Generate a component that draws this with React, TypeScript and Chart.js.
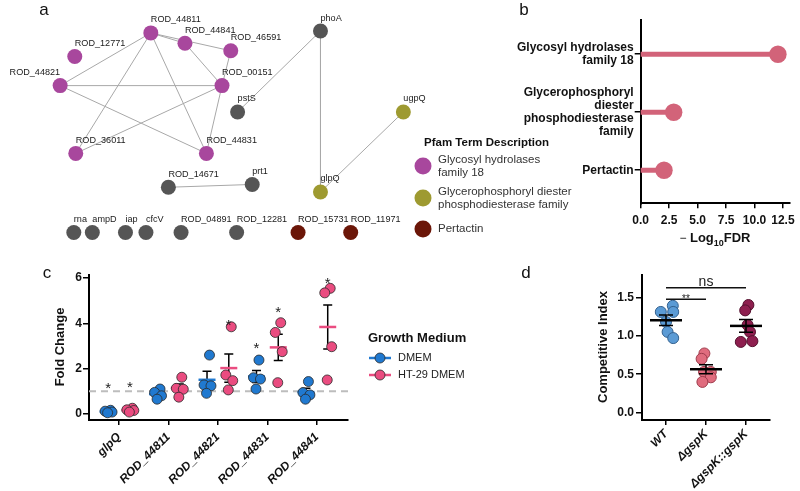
import React, { useEffect, useRef } from "react";
import { Chart, registerables } from "chart.js";

Chart.register(...registerables);

const FONT = '"Liberation Sans", Arial, Helvetica, sans-serif';

// ---------------- Panel a: interaction network ----------------
const nodeNames = ["ROD_44811", "ROD_44841", "ROD_46591", "ROD_12771", "ROD_44821", "ROD_00151", "pstS", "ROD_36011", "ROD_44831", "ROD_14671", "prt1", "phoA", "glpQ", "ugpQ", "rna", "ampD", "iap", "cfcV", "ROD_04891", "ROD_12281", "ROD_15731", "ROD_11971"];
const nodeX = [147, 182, 229, 69, 54, 220, 236, 70, 204, 165, 251, 321, 321, 406, 68, 87, 121, 142, 178, 235, 298, 352];
const nodeY = [27, 38, 46, 52, 83, 83, 111, 155, 155, 191, 188, 25, 196, 111, 239, 239, 239, 239, 239, 239, 239, 239];
const nodeGroup = [0, 0, 0, 0, 0, 0, 3, 0, 0, 3, 3, 3, 1, 1, 3, 3, 3, 3, 3, 3, 2, 2];
const rightLabelled = ["ROD_44821"];
const edgeFrom = ["ROD_44811", "ROD_44811", "ROD_44811", "ROD_44811", "ROD_44811", "ROD_44841", "ROD_46591", "ROD_44821", "ROD_44821", "ROD_00151", "ROD_00151", "phoA", "phoA", "glpQ", "ROD_14671"];
const edgeTo = ["ROD_44841", "ROD_46591", "ROD_44821", "ROD_36011", "ROD_44831", "ROD_00151", "ROD_00151", "ROD_00151", "ROD_44831", "ROD_36011", "ROD_44831", "pstS", "glpQ", "ugpQ", "prt1"];
const groupNames = [["Glycosyl hydrolases", "family 18"], ["Glycerophosphoryl diester", "phosphodiesterase family"], ["Pertactin"]];
const groupColors = ["#A8479D", "#9E9A31", "#6B1608", "#555555"];

// ---------------- Panel b: Pfam enrichment ----------------
const pfamTerms = [["Glycosyl hydrolases", "family 18"], ["Glycerophosphoryl", "diester", "phosphodiesterase", "family"], ["Pertactin"]];
const pfamLogFDR = [12.06, 2.9, 2.05];
const fdrTicks = [0, 2.5, 5, 7.5, 10, 12.5];

// ---------------- Panel c: fold change ----------------
const genes = ["glpQ", "ROD_44811", "ROD_44821", "ROD_44831", "ROD_44841"];
const mediumNames = ["DMEM", "HT-29 DMEM"];
const dmemValues = [
  [0.16, 0.12, 0.08, 0.05],
  [1.1, 0.95, 0.8, 0.65],
  [2.6, 1.28, 1.24, 0.91],
  [2.38, 1.6, 1.54, 1.1],
  [1.43, 0.94, 0.84, 0.65],
];
const ht29Values = [
  [0.25, 0.18, 0.15, 0.08],
  [1.62, 1.13, 1.09, 0.74],
  [3.85, 1.72, 1.47, 1.06],
  [4.03, 3.6, 2.75, 1.38],
  [5.55, 5.35, 2.97, 1.5],
];
const foldTicks = [0, 2, 4, 6];
const foldReference = 1;
const starGene = [0, 0, 2, 3, 3, 4];
const starMedium = [0, 1, 1, 0, 1, 1];
const starY = [1.3, 1.37, 4.1, 3.09, 4.68, 5.95];

// ---------------- Panel d: competitive index ----------------
const strains = ["WT", "ΔgspK", "ΔgspK::gspK"];
const ciWT = [1.39, 1.31, 1.31, 1.18, 1.05, 0.97];
const ciMutant = [0.77, 0.7, 0.53, 0.53, 0.46, 0.4];
const ciComplement = [1.4, 1.33, 1.14, 1.05, 0.93, 0.92];
const ciTicks = [0, 0.5, 1, 1.5];
const sigFrom = [0, 0];
const sigTo = [2, 1];
const sigY = [1.625, 1.475];
const sigText = ["ns", "**"];

// ---------------- styling (not data) ----------------
const LOLLI = "#D26379";
const DMEM_FILL = "#2079D0";
const HT_FILL = "#EA4C80";
const D_FILLS = ["#5B9BD5", "#E06C7E", "#8E1F4F"];
const D_BORDERS = ["#33618F", "#9E3C4C", "#55102E"];
const C_OFF = [-0.22, 0.22];
const jitterC = [0.05, -0.06, 0.08, -0.01];
const jitterD = [
  [0.17, -0.13, 0.18, 0, 0.04, 0.18],
  [-0.04, -0.11, -0.05, 0.12, 0.12, -0.09],
  [0.06, -0.02, 0.04, 0.1, 0.16, -0.13],
];

const meanSem = (v: number[]) => {
  const m = v.reduce((a, b) => a + b, 0) / v.length;
  const sd = Math.sqrt(v.reduce((a, b) => a + (b - m) ** 2, 0) / (v.length - 1));
  return [m, sd / Math.sqrt(v.length)];
};

const base = (padding: any) => ({
  responsive: false,
  maintainAspectRatio: false,
  animation: false,
  devicePixelRatio: 1,
  events: [],
  layout: { padding },
  plugins: { legend: { display: false }, tooltip: { enabled: false }, title: { display: false } },
});

const tickFont = (extra: any = {}) => ({ family: FONT, weight: "bold", size: 12, ...extra });

function drawMeanSem(ctx: any, xs: any, ys: any, xc: number, vals: number[], halfW: number, capHalf: number, color: string, lw: number) {
  const [m, se] = meanSem(vals);
  const px = xs.getPixelForValue(xc);
  const yt = ys.getPixelForValue(m + se);
  const yb = ys.getPixelForValue(m - se);
  const ym = ys.getPixelForValue(m);
  ctx.strokeStyle = "#000";
  ctx.lineWidth = 1.5;
  ctx.beginPath();
  ctx.moveTo(px, yt); ctx.lineTo(px, yb);
  ctx.moveTo(px - capHalf, yt); ctx.lineTo(px + capHalf, yt);
  ctx.moveTo(px - capHalf, yb); ctx.lineTo(px + capHalf, yb);
  ctx.stroke();
  ctx.strokeStyle = color;
  ctx.lineWidth = lw;
  ctx.beginPath();
  ctx.moveTo(px - halfW, ym); ctx.lineTo(px + halfW, ym);
  ctx.stroke();
}

function letter(ctx: any, t: string, x: number, y: number) {
  ctx.save();
  ctx.font = `17px ${FONT}`;
  ctx.fillStyle = "#111";
  ctx.textAlign = "center";
  ctx.textBaseline = "middle";
  ctx.fillText(t, x, y);
  ctx.restore();
}

function vTitle(ctx: any, t: string, x: number, y: number) {
  ctx.save();
  ctx.translate(x, y);
  ctx.rotate(-Math.PI / 2);
  ctx.font = `bold 13px ${FONT}`;
  ctx.fillStyle = "#111";
  ctx.textAlign = "center";
  ctx.textBaseline = "middle";
  ctx.fillText(t, 0, 0);
  ctx.restore();
}

// ---------------- builders ----------------
function buildA(): any {
  const idx = (n: string) => nodeNames.indexOf(n);
  const edges = edgeFrom.map((f, i) => ({
    data: [
      { x: nodeX[idx(f)], y: nodeY[idx(f)] },
      { x: nodeX[idx(edgeTo[i])], y: nodeY[idx(edgeTo[i])] },
    ],
    showLine: true,
    borderColor: "#A8A8A8",
    borderWidth: 1,
    pointRadius: 0,
    order: 5,
  }));
  const nodes = {
    data: nodeNames.map((_, i) => ({ x: nodeX[i], y: nodeY[i] })),
    pointRadius: 7.5,
    pointBackgroundColor: nodeGroup.map((g) => groupColors[g]),
    pointBorderWidth: 0,
    order: 0,
    clip: false,
  };
  const plugin = {
    id: "netLabels",
    afterDatasetsDraw(chart: any) {
      const ctx = chart.ctx;
      const xs = chart.scales.x;
      const ys = chart.scales.y;
      ctx.save();
      ctx.font = `9.1px ${FONT}`;
      ctx.fillStyle = "#1a1a1a";
      ctx.textBaseline = "middle";
      nodeNames.forEach((n, i) => {
        ctx.textAlign = rightLabelled.includes(n) ? "right" : "left";
        ctx.fillText(n, xs.getPixelForValue(nodeX[i]), ys.getPixelForValue(nodeY[i]) - 13);
      });
      // legend
      ctx.textAlign = "left";
      ctx.font = `bold 11.5px ${FONT}`;
      ctx.fillStyle = "#111";
      ctx.fillText("Pfam Term Description", 424, 143);
      const rowY = [166, 198, 229];
      ctx.font = `11.5px ${FONT}`;
      groupNames.forEach((lines, g) => {
        ctx.fillStyle = groupColors[g];
        ctx.beginPath();
        ctx.arc(423, rowY[g], 8.5, 0, Math.PI * 2);
        ctx.fill();
        ctx.fillStyle = "#333";
        lines.forEach((l, k) => ctx.fillText(l, 438, rowY[g] + (k - (lines.length - 1) / 2) * 13));
      });
      ctx.restore();
      letter(ctx, "a", 44, 10);
    },
  };
  return {
    type: "scatter",
    data: { datasets: [...edges, nodes] },
    options: {
      ...base(0),
      scales: {
        x: { type: "linear", min: 0, max: 600, display: false },
        y: { type: "linear", min: 0, max: 255, reverse: true, display: false },
      },
    },
    plugins: [plugin],
  };
}

function buildB(): any {
  const sets = pfamLogFDR.map((v, i) => ({
    data: [{ x: 0, y: i }, { x: v, y: i }],
    showLine: true,
    borderColor: LOLLI,
    borderWidth: 5,
    borderCapStyle: "butt",
    pointRadius: [0, 8.7],
    pointBackgroundColor: LOLLI,
    pointBorderWidth: 0,
    clip: false,
  }));
  const plugin = {
    id: "bExtras",
    afterDraw(chart: any) {
      const ctx = chart.ctx;
      const ca = chart.chartArea;
      const parts = [
        { t: "\u2212 ", f: `12px ${FONT}`, dy: 0 },
        { t: "Log", f: `bold 13px ${FONT}`, dy: 0 },
        { t: "10", f: `bold 9px ${FONT}`, dy: 3.5 },
        { t: "FDR", f: `bold 13px ${FONT}`, dy: 0 },
      ];
      ctx.save();
      ctx.fillStyle = "#111";
      ctx.textBaseline = "alphabetic";
      ctx.textAlign = "left";
      let w = 0;
      parts.forEach((p) => { ctx.font = p.f; w += ctx.measureText(p.t).width; });
      let x = (ca.left + ca.right) / 2 - w / 2;
      parts.forEach((p) => {
        ctx.font = p.f;
        ctx.fillText(p.t, x, 242 + p.dy);
        x += ctx.measureText(p.t).width;
      });
      ctx.restore();
      letter(ctx, "b", 104, 10);
    },
  };
  return {
    type: "scatter",
    data: { datasets: sets },
    options: {
      ...base({ top: 20, right: 8.3, left: 0, bottom: 0 }),
      scales: {
        x: {
          type: "linear", min: 0, max: 13.07,
          afterBuildTicks: (ax: any) => { ax.ticks = fdrTicks.map((v) => ({ value: v })); },
          afterFit: (ax: any) => { ax.height = 46.7; },
          grid: { drawOnChartArea: false, tickLength: 5, color: "#000", lineWidth: 1.5 },
          border: { color: "#000", width: 2 },
          ticks: { callback: (v: any) => Number(v).toFixed(1), font: tickFont(), color: "#111", padding: 5, maxRotation: 0, autoSkip: false },
        },
        y: {
          type: "linear", min: -0.59, max: 2.57, reverse: true,
          afterBuildTicks: (ax: any) => { ax.ticks = pfamTerms.map((_, i) => ({ value: i })); },
          afterFit: (ax: any) => { ax.width = 220.7; },
          grid: { drawOnChartArea: false, tickLength: 6, color: "#000", lineWidth: 1.5 },
          border: { color: "#000", width: 2 },
          ticks: { callback: (v: any) => pfamTerms[v], font: tickFont({ lineHeight: 1.1 }), color: "#111", padding: 1, autoSkip: false },
        },
      },
    },
    plugins: [plugin],
  };
}

const C_XMIN = -0.606;
const C_XMAX = 4.63;

function buildC(): any {
  const groups = [dmemValues, ht29Values];
  const fills = [DMEM_FILL, HT_FILL];
  const pts = groups.map((vals, m) => ({
    data: genes.flatMap((_, gi) => vals[gi].map((v, k) => ({ x: gi + C_OFF[m] + jitterC[k], y: v }))),
    pointRadius: 5,
    pointBackgroundColor: fills[m],
    pointBorderColor: "#2a2a2a",
    pointBorderWidth: 0.8,
    order: m + 1,
    clip: false,
  }));
  const ref = {
    data: [{ x: C_XMIN, y: foldReference }, { x: C_XMAX, y: foldReference }],
    showLine: true,
    borderColor: "#BDBDBD",
    borderWidth: 2,
    borderDash: [7, 5],
    pointRadius: 0,
    order: 3,
  };
  const plugin = {
    id: "cExtras",
    afterDatasetDraw(chart: any, args: any) {
      if (args.index !== 2) return;
      const ctx = chart.ctx;
      const xs = chart.scales.x;
      const ys = chart.scales.y;
      ctx.save();
      groups.forEach((vals, m) => {
        genes.forEach((_, gi) => drawMeanSem(ctx, xs, ys, gi + C_OFF[m], vals[gi], 8.5, 4.5, fills[m], 2.5));
      });
      ctx.restore();
    },
    afterDraw(chart: any) {
      const ctx = chart.ctx;
      const xs = chart.scales.x;
      const ys = chart.scales.y;
      ctx.save();
      ctx.font = `15px ${FONT}`;
      ctx.fillStyle = "#222";
      ctx.textAlign = "center";
      ctx.textBaseline = "alphabetic";
      starY.forEach((y, i) => {
        ctx.fillText("*", xs.getPixelForValue(starGene[i] + C_OFF[starMedium[i]]), ys.getPixelForValue(y) + 9);
      });
      // legend
      ctx.textAlign = "left";
      ctx.textBaseline = "middle";
      ctx.font = `bold 13px ${FONT}`;
      ctx.fillStyle = "#111";
      ctx.fillText("Growth Medium", 368, 83);
      const rows = [103, 120];
      mediumNames.forEach((n, m) => {
        ctx.strokeStyle = fills[m];
        ctx.lineWidth = 2.5;
        ctx.beginPath();
        ctx.moveTo(369, rows[m]); ctx.lineTo(391, rows[m]);
        ctx.stroke();
        ctx.fillStyle = fills[m];
        ctx.strokeStyle = "#2a2a2a";
        ctx.lineWidth = 0.8;
        ctx.beginPath();
        ctx.arc(380, rows[m], 5, 0, Math.PI * 2);
        ctx.fill();
        ctx.stroke();
        ctx.font = `11px ${FONT}`;
        ctx.fillStyle = "#222";
        ctx.fillText(n, 398, rows[m]);
      });
      ctx.restore();
      vTitle(ctx, "Fold Change", 60, 92);
      letter(ctx, "c", 47, 18);
    },
  };
  return {
    type: "scatter",
    data: { datasets: [...pts, ref] },
    options: {
      ...base({ top: 20, right: 212, left: 0, bottom: 0 }),
      scales: {
        x: {
          type: "linear", min: C_XMIN, max: C_XMAX,
          afterBuildTicks: (ax: any) => { ax.ticks = genes.map((_, i) => ({ value: i })); },
          afterFit: (ax: any) => { ax.height = 71; },
          grid: { drawOnChartArea: false, tickLength: 5, color: "#000", lineWidth: 1.5 },
          border: { color: "#000", width: 2 },
          ticks: { callback: (v: any) => genes[v], font: tickFont({ style: "italic" }), color: "#111", padding: 5, minRotation: 45, maxRotation: 45, autoSkip: false },
        },
        y: {
          type: "linear", min: -0.27, max: 6.14,
          afterBuildTicks: (ax: any) => { ax.ticks = foldTicks.map((v) => ({ value: v })); },
          afterFit: (ax: any) => { ax.width = 89; },
          grid: { drawOnChartArea: false, tickLength: 6, color: "#000", lineWidth: 1.5 },
          border: { color: "#000", width: 2 },
          ticks: { font: tickFont(), color: "#111", padding: 1, autoSkip: false },
        },
      },
    },
    plugins: [plugin],
  };
}

function buildD(): any {
  const groups = [ciWT, ciMutant, ciComplement];
  const pts = groups.map((vals, s) => ({
    data: vals.map((v, k) => ({ x: s + jitterD[s][k], y: v })),
    pointRadius: 5.5,
    pointBackgroundColor: D_FILLS[s],
    pointBorderColor: D_BORDERS[s],
    pointBorderWidth: 1,
    clip: false,
  }));
  const plugin = {
    id: "dExtras",
    afterDatasetsDraw(chart: any) {
      const ctx = chart.ctx;
      const xs = chart.scales.x;
      const ys = chart.scales.y;
      ctx.save();
      groups.forEach((vals, s) => drawMeanSem(ctx, xs, ys, s, vals, 16, 7, "#000", 2.5));
      ctx.strokeStyle = "#111";
      ctx.lineWidth = 1.5;
      ctx.fillStyle = "#222";
      ctx.textAlign = "center";
      ctx.textBaseline = "alphabetic";
      sigY.forEach((y, i) => {
        const x0 = xs.getPixelForValue(sigFrom[i]);
        const x1 = xs.getPixelForValue(sigTo[i]);
        const py = ys.getPixelForValue(y);
        ctx.beginPath();
        ctx.moveTo(x0, py); ctx.lineTo(x1, py);
        ctx.stroke();
        if (sigText[i] === "ns") {
          ctx.font = `14px ${FONT}`;
          ctx.fillText(sigText[i], (x0 + x1) / 2, py - 2);
        } else {
          ctx.font = `10px ${FONT}`;
          ctx.fillText(sigText[i], (x0 + x1) / 2, py + 2.5);
        }
      });
      ctx.restore();
      vTitle(ctx, "Competitive Index", 103, 92);
      letter(ctx, "d", 26, 18);
    },
  };
  return {
    type: "scatter",
    data: { datasets: pts },
    options: {
      ...base({ top: 20, right: 30, left: 0, bottom: 0 }),
      scales: {
        x: {
          type: "linear", min: -0.6, max: 2.6,
          afterBuildTicks: (ax: any) => { ax.ticks = strains.map((_, i) => ({ value: i })); },
          afterFit: (ax: any) => { ax.height = 71; },
          grid: { drawOnChartArea: false, tickLength: 5, color: "#000", lineWidth: 1.5 },
          border: { color: "#000", width: 2 },
          ticks: { callback: (v: any) => strains[v], font: tickFont({ style: "italic" }), color: "#111", padding: 2, minRotation: 45, maxRotation: 45, autoSkip: false },
        },
        y: {
          type: "linear", min: -0.095, max: 1.79,
          afterBuildTicks: (ax: any) => { ax.ticks = ciTicks.map((v) => ({ value: v })); },
          afterFit: (ax: any) => { ax.width = 142; },
          grid: { drawOnChartArea: false, tickLength: 6, color: "#000", lineWidth: 1.5 },
          border: { color: "#000", width: 2 },
          ticks: { callback: (v: any) => Number(v).toFixed(1), font: tickFont(), color: "#111", padding: 2, autoSkip: false },
        },
      },
    },
    plugins: [plugin],
  };
}

function Panel({ left, top, width, height, build }: { left: number; top: number; width: number; height: number; build: () => any }) {
  const ref = useRef<HTMLCanvasElement | null>(null);
  useEffect(() => {
    if (!ref.current) return;
    const chart = new Chart(ref.current, build());
    return () => chart.destroy();
  }, [build]);
  return <canvas ref={ref} width={width} height={height} style={{ position: "absolute", left, top, width, height }} />;
}

export default function App() {
  return (
    <div style={{ position: "fixed", left: 0, top: 0, width: 800, height: 491, background: "#fff", overflow: "hidden" }}>
      <Panel left={0} top={0} width={600} height={255} build={buildA} />
      <Panel left={420} top={0} width={380} height={250} build={buildB} />
      <Panel left={0} top={255} width={560} height={236} build={buildC} />
      <Panel left={500} top={255} width={300} height={236} build={buildD} />
    </div>
  );
}
